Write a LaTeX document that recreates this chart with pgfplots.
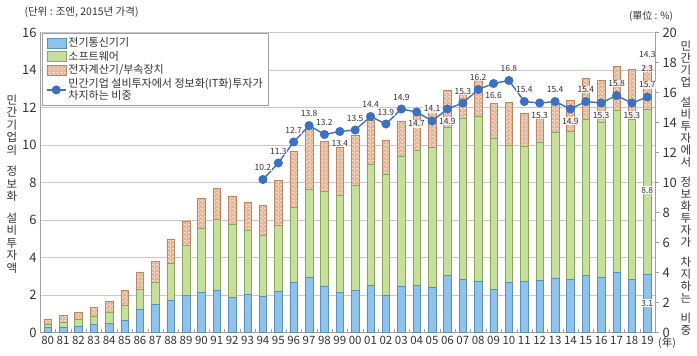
\documentclass[border=0pt]{standalone}
\usepackage{fontspec}
\setmainfont{Noto Sans CJK KR}
\usepackage{pgfplots}
\pgfplotsset{compat=1.18}
\usepackage{pgfplotstable}
\usetikzlibrary{patterns}

\definecolor{cblue}{HTML}{8EC4EC}
\definecolor{cblueE}{HTML}{5F8FB8}
\definecolor{cgreen}{HTML}{C6DF9A}
\definecolor{cgreenE}{HTML}{8DA65E}
\definecolor{corange}{HTML}{E9B592}
\definecolor{corangeE}{HTML}{B88866}
\definecolor{cline}{HTML}{3E70C1}
\definecolor{cgrid}{HTML}{C8C8C8}
\definecolor{caxis}{HTML}{A0A0A0}
\definecolor{ctext}{HTML}{333333}

\pgfdeclarepatternformonly{weave}{\pgfpoint{-0.5pt}{-0.5pt}}{\pgfpoint{4.5pt}{4.5pt}}{\pgfpoint{4pt}{4pt}}{
  \pgfsetlinewidth{0.5pt}
  \pgfpathmoveto{\pgfpoint{0pt}{0pt}}\pgfpathlineto{\pgfpoint{2pt}{0pt}}
  \pgfpathmoveto{\pgfpoint{2pt}{1pt}}\pgfpathlineto{\pgfpoint{2pt}{3pt}}
  \pgfusepath{stroke}
}

\pgfplotstableread{
x b g o
0 0.27 0.18 0.27
1 0.29 0.25 0.36
2 0.33 0.35 0.38
3 0.44 0.44 0.46
4 0.50 0.58 0.60
5 0.67 0.78 0.78
6 1.25 1.05 0.93
7 1.52 1.16 1.10
8 1.72 1.97 1.30
9 1.98 2.65 1.32
10 2.17 3.41 1.58
11 2.27 3.78 1.65
12 1.86 3.91 1.51
13 2.05 3.42 1.45
14 1.91 3.25 1.62
15 2.21 3.51 2.38
16 2.68 4.00 2.96
17 2.94 4.71 3.19
18 2.48 5.03 2.70
19 2.14 5.18 2.54
20 2.23 5.64 2.66
21 2.50 6.49 2.34
22 2.00 6.45 1.82
23 2.44 6.94 1.90
24 2.53 7.17 1.87
25 2.43 7.43 1.95
26 3.03 7.93 1.96
27 2.84 8.58 1.34
28 2.75 8.76 1.92
29 2.30 8.06 1.86
30 2.66 7.34 2.27
31 2.73 7.22 1.74
32 2.76 7.38 1.34
33 2.91 7.75 1.53
34 2.84 7.87 1.65
35 3.05 8.32 2.17
36 2.94 8.27 2.26
37 3.23 8.64 2.34
38 2.84 8.53 2.67
39 3.10 8.80 2.30
}\bars

\pgfplotstableread{
x r dy
14 10.2 12
15 11.3 12
16 12.7 12
17 13.8 12
18 13.2 12
19 13.4 -12
20 13.5 12
21 14.4 12
22 13.9 12
23 14.9 12
24 14.7 -12
25 14.1 12
26 14.9 -12
27 15.3 12
28 16.2 12
29 16.6 -12
30 16.8 12
31 15.4 12
32 15.3 -12
33 15.4 12
34 14.9 -12
35 15.4 12
36 15.3 -12
37 15.8 12
38 15.3 -12
39 15.7 12
}\share

\pgfplotsset{
  barleg/.style={legend image code/.code={\draw[##1] (0pt,-5pt) rectangle (19pt,5pt);}},
  lineleg/.style={legend image code/.code={\draw[##1, mark repeat=2, mark phase=2] plot coordinates {(0pt,0pt) (9.5pt,0pt) (19pt,0pt)};}},
}

\begin{document}
\begin{tikzpicture}
\path[use as bounding box] (0,0) rectangle (697pt,356pt);
\begin{axis}[
  at={(40pt,23.5pt)}, anchor=south west,
  scale only axis, width=615pt, height=300pt,
  xmin=-0.5, xmax=39.5, ymin=0, ymax=16,
  clip=false,
  ybar stacked, bar width=7.5pt,
  axis x line*=bottom, axis y line*=left,
  axis line style={draw=caxis, -},
  ytick={0,2,...,16},
  ymajorgrids, grid style={draw=cgrid, line width=0.6pt},
  xtick={0,...,39},
  xticklabels={80,81,82,83,84,85,86,87,88,89,90,91,92,93,94,95,96,97,98,99,00,01,02,03,04,05,06,07,08,09,10,11,12,13,14,15,16,17,18,19},
  minor xtick={0.5,1.5,...,38.5},
  tick align=inside,
  major tick length=0pt, minor tick length=3pt,
  minor tick style={draw=caxis},
  /pgf/number format/assume math mode=true,
  yticklabel style={font=\fontsize{13}{13}\selectfont, text=ctext},
  xticklabel style={font=\fontsize{11.5}{12}\selectfont, text=ctext, yshift=0pt},
]
\addplot[fill=cblue, draw=cblueE, line width=0.5pt] table[x=x, y=b] {\bars};
\addplot[fill=cgreen, draw=cgreenE, line width=0.5pt] table[x=x, y=g] {\bars};
\addplot[fill=corange, draw=corangeE, line width=0.5pt,
  postaction={pattern=weave, pattern color=white!55!corange}] table[x=x, y=o] {\bars};
\end{axis}
\begin{axis}[
  at={(40pt,23.5pt)}, anchor=south west,
  scale only axis, width=615pt, height=300pt,
  xmin=-0.5, xmax=39.5, ymin=0, ymax=20,
  clip=false,
  axis x line=none, axis y line*=right,
  axis line style={draw=caxis, -},
  ytick={0,2,...,20},
  tick align=outside, major tick length=4pt,
  major tick style={draw=caxis},
  /pgf/number format/assume math mode=true,
  yticklabel style={font=\fontsize{13}{13}\selectfont, text=ctext},
  legend style={at={(0.003,0.997)}, anchor=north west, draw=caxis,
    font=\fontsize{11}{12.5}\selectfont, text=ctext,
    cells={anchor=west, align=left}, row sep=-1pt, inner sep=2pt,
    inner xsep=4pt},
]
\addlegendimage{barleg, fill=cblue, draw=cblueE}
\addlegendentry{전기통신기기}
\addlegendimage{barleg, fill=cgreen, draw=cgreenE}
\addlegendentry{소프트웨어}
\addlegendimage{barleg, fill=corange, draw=corangeE, postaction={pattern=weave, pattern color=white!55!corange}}
\addlegendentry{전자계산기/부속장치}
\node[font=\fontsize{8.5}{9}\selectfont, text=ctext] at (axis cs:39,18.56) {14.3};
\node[font=\fontsize{8.5}{9}\selectfont, text=ctext, fill=white, fill opacity=0.7, text opacity=1, inner sep=0.5pt] at (axis cs:39,17.63) {2.3};
\node[font=\fontsize{8.5}{9}\selectfont, text=ctext, fill=white, inner sep=0.5pt] at (axis cs:39,9.5) {8.8};
\node[font=\fontsize{8.5}{9}\selectfont, text=ctext, fill=white, inner sep=0.5pt] at (axis cs:39,1.96) {3.1};
\addplot[lineleg, color=cline, line width=1.4pt, mark=*, mark size=3.8pt,
  mark options={fill=cline, draw=cline},
  visualization depends on={\thisrow{dy} \as \dy},
  nodes near coords={\pgfmathprintnumber[fixed, precision=1, fixed zerofill]{\pgfplotspointmeta}},
  point meta=y,
  nodes near coords style={anchor=center, yshift=\dy, font=\fontsize{8.5}{9}\selectfont, text=ctext, fill=white, fill opacity=0.75, text opacity=1, inner sep=0.5pt},
] table[x=x, y=r] {\share};
\addlegendentry{민간기업 설비투자에서 정보화(IT화)투자가\\차지하는 비중}
\end{axis}
\node[anchor=west, font=\fontsize{10.5}{11}\selectfont, text=ctext] at (21pt,344pt) {(단위 : 조엔, 2015년 가격)};
\node[font=\fontsize{10}{11}\selectfont, text=ctext] at (651pt,340pt) {(單位 : \%)};
\node[font=\fontsize{10.5}{11}\selectfont, text=ctext] at (667pt,12.5pt) {(年)};
\node[align=center, font=\fontsize{11.5}{12.5}\selectfont, text=ctext] at (12pt,172pt)
  {민\\간\\기\\업\\의\\[9pt]정\\보\\화\\[9pt]설\\비\\투\\자\\액};
\node[align=center, font=\fontsize{11.5}{12}\selectfont, text=ctext] at (686pt,168pt)
  {민\\간\\기\\업\\[8pt]설\\비\\투\\자\\에\\서\\[8pt]정\\보\\화\\투\\자\\가\\[8pt]차\\지\\하\\는\\[8pt]비\\중};
\end{tikzpicture}
\end{document}
